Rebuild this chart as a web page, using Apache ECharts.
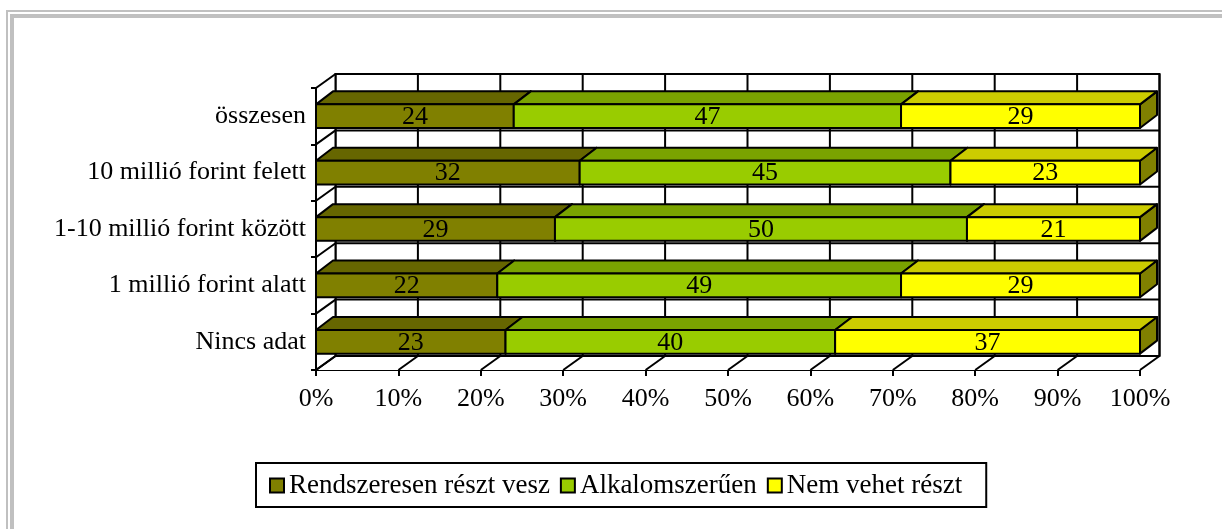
<!DOCTYPE html>
<html>
<head>
<meta charset="utf-8">
<script src="https://cdn.jsdelivr.net/npm/echarts@6/dist/echarts.min.js"></script>
<style>
  html, body { margin: 0; padding: 0; background: #fff; }
  #chart { width: 1222px; height: 529px; }
</style>
</head>
<body>
<div id="chart"></div>
<script>
var categories = ["összesen", "10 millió forint felett", "1-10 millió forint között", "1 millió forint alatt", "Nincs adat"];
var seriesNames = ["Rendszeresen részt vesz", "Alkalomszerűen", "Nem vehet részt"];
var regular = [24, 32, 29, 22, 23];
var occasional = [47, 45, 50, 49, 40];
var cannot = [29, 23, 21, 29, 37];
var xTicks = [0, 10, 20, 30, 40, 50, 60, 70, 80, 90, 100];

// face colours: front, top, side
var colors = [
    ["#808000", "#666600", "#4d4d00"],
    ["#99cc00", "#7aa300", "#5c7a00"],
    ["#ffff00", "#cccc00", "#808000"]
];

var FONT = "'Liberation Serif', 'Times New Roman', serif";
var WALL_DX = 19.5, WALL_DY = 14;
var BAR_DX = 17, BAR_DY = 13;

// walls, floor and back-wall grid, all from the axes
function renderWalls(params, api) {
    var h = api.size([0, 1])[1];
    var yTop = api.coord([0, 0])[1] - h / 2;
    var yBot = api.coord([0, categories.length - 1])[1] + h / 2;
    var x0 = api.coord([0, 0])[0];
    var x1 = api.coord([100, 0])[0];
    var line = { stroke: "#000", lineWidth: 2 };
    var kids = [];
    // back wall
    kids.push({ type: "rect", shape: { x: x0 + WALL_DX, y: yTop - WALL_DY, width: x1 - x0, height: yBot - yTop },
        style: { fill: "#fff", stroke: "#000", lineWidth: 2 } });
    // left wall
    kids.push({ type: "polygon", shape: { points: [[x0, yTop], [x0 + WALL_DX, yTop - WALL_DY], [x0 + WALL_DX, yBot - WALL_DY], [x0, yBot]] },
        style: { fill: "#fff" } });
    // floor
    kids.push({ type: "polygon", shape: { points: [[x0, yBot], [x0 + WALL_DX, yBot - WALL_DY], [x1 + WALL_DX, yBot - WALL_DY], [x1, yBot]] },
        style: { fill: "#fff" } });
    // vertical grid on back wall + floor diagonals
    xTicks.forEach(function (v) {
        var x = api.coord([v, 0])[0];
        kids.push({ type: "line", shape: { x1: x + WALL_DX, y1: yTop - WALL_DY, x2: x + WALL_DX, y2: yBot - WALL_DY }, style: line });
        kids.push({ type: "line", shape: { x1: x, y1: yBot, x2: x + WALL_DX, y2: yBot - WALL_DY }, style: line });
    });
    // category boundaries: back wall horizontals + left wall diagonals
    for (var i = 0; i <= categories.length; i++) {
        var b = yTop + i * h;
        kids.push({ type: "line", shape: { x1: x0 + WALL_DX, y1: b - WALL_DY, x2: x1 + WALL_DX, y2: b - WALL_DY }, style: line });
        kids.push({ type: "line", shape: { x1: x0, y1: b, x2: x0 + WALL_DX, y2: b - WALL_DY }, style: line });
    }
    kids.push({ type: "line", shape: { x1: x0, y1: yTop, x2: x0, y2: yBot }, style: line });
    return { type: "group", children: kids };
}

function makeBarRender(c) {
    return function (params, api) {
        var cat = api.value(0);
        var p0 = api.coord([api.value(1), cat]);
        var p1 = api.coord([api.value(2), cat]);
        var bh = api.size([0, 1])[1] * 0.42;
        var top = p0[1] - bh / 2, bot = top + bh;
        var xa = p0[0], xb = p1[0];
        var st = { stroke: "#000", lineWidth: 2, lineJoin: "round" };
        return {
            type: "group",
            children: [
                { type: "polygon", shape: { points: [[xb, top], [xb + BAR_DX, top - BAR_DY], [xb + BAR_DX, bot - BAR_DY], [xb, bot]] },
                  style: Object.assign({ fill: c[2] }, st) },
                { type: "polygon", shape: { points: [[xa, top], [xb, top], [xb + BAR_DX, top - BAR_DY], [xa + BAR_DX, top - BAR_DY]] },
                  style: Object.assign({ fill: c[1] }, st) },
                { type: "rect", shape: { x: xa, y: top, width: xb - xa, height: bh },
                  style: Object.assign({ fill: c[0] }, st) },
                { type: "text", x: (xa + xb) / 2, y: (top + bot) / 2 + 1,
                  style: { text: String(api.value(3)), fill: "#000", font: "26px " + FONT, align: "center", verticalAlign: "middle" } }
            ]
        };
    };
}

var allValues = [regular, occasional, cannot];
var barSeries = allValues.map(function (vals, s) {
    var data = vals.map(function (v, i) {
        var start = 0;
        for (var k = 0; k < s; k++) start += allValues[k][i];
        return [i, start, start + v, v];
    });
    return {
        name: seriesNames[s],
        type: "custom",
        silent: true,
        z: 3 + s,
        itemStyle: { color: colors[s][0] },
        encode: { x: [1, 2], y: 0 },
        renderItem: makeBarRender(colors[s]),
        data: data
    };
});

var chart = echarts.init(document.getElementById("chart"));
chart.setOption({
    animation: false,
    backgroundColor: "#fff",
    grid: { left: 316, right: 82, top: 88, bottom: 159 },
    xAxis: {
        type: "value", min: 0, max: 100, interval: 10,
        axisLine: { show: true, lineStyle: { color: "#000", width: 2 } },
        axisTick: { show: true, length: 6, lineStyle: { color: "#000", width: 2 } },
        splitLine: { show: false },
        axisLabel: { formatter: "{value}%", color: "#000", fontFamily: FONT, fontSize: 26, margin: 16 }
    },
    yAxis: {
        type: "category", inverse: true, data: categories,
        axisLine: { show: true, lineStyle: { color: "#000", width: 2 } },
        axisTick: { show: true, length: 5, lineStyle: { color: "#000", width: 2 } },
        axisLabel: { color: "#000", fontFamily: FONT, fontSize: 26, margin: 10 }
    },
    legend: {
        data: seriesNames,
        left: 256, top: 463,
        icon: "rect", itemWidth: 14, itemHeight: 14, itemGap: 10,
        padding: [9, 24, 8, 13],
        borderColor: "#000", borderWidth: 2,
        itemStyle: { borderColor: "#000", borderWidth: 2 },
        textStyle: { color: "#000", fontFamily: FONT, fontSize: 27 },
        selectedMode: false
    },
    graphic: [
        { type: "line", shape: { x1: 6, y1: 11, x2: 1222, y2: 11 }, style: { stroke: "#c0c0c0", lineWidth: 2 } },
        { type: "line", shape: { x1: 7, y1: 10, x2: 7, y2: 529 }, style: { stroke: "#c0c0c0", lineWidth: 2 } },
        { type: "line", shape: { x1: 10, y1: 16, x2: 1222, y2: 16 }, style: { stroke: "#c0c0c0", lineWidth: 4 } },
        { type: "line", shape: { x1: 12, y1: 14, x2: 12, y2: 529 }, style: { stroke: "#c0c0c0", lineWidth: 4 } }
    ],
    series: [{
        type: "custom", silent: true, z: 1,
        encode: { x: 0, y: 1 },
        renderItem: renderWalls,
        data: [[0, 0]]
    }].concat(barSeries)
});
</script>
</body>
</html>
